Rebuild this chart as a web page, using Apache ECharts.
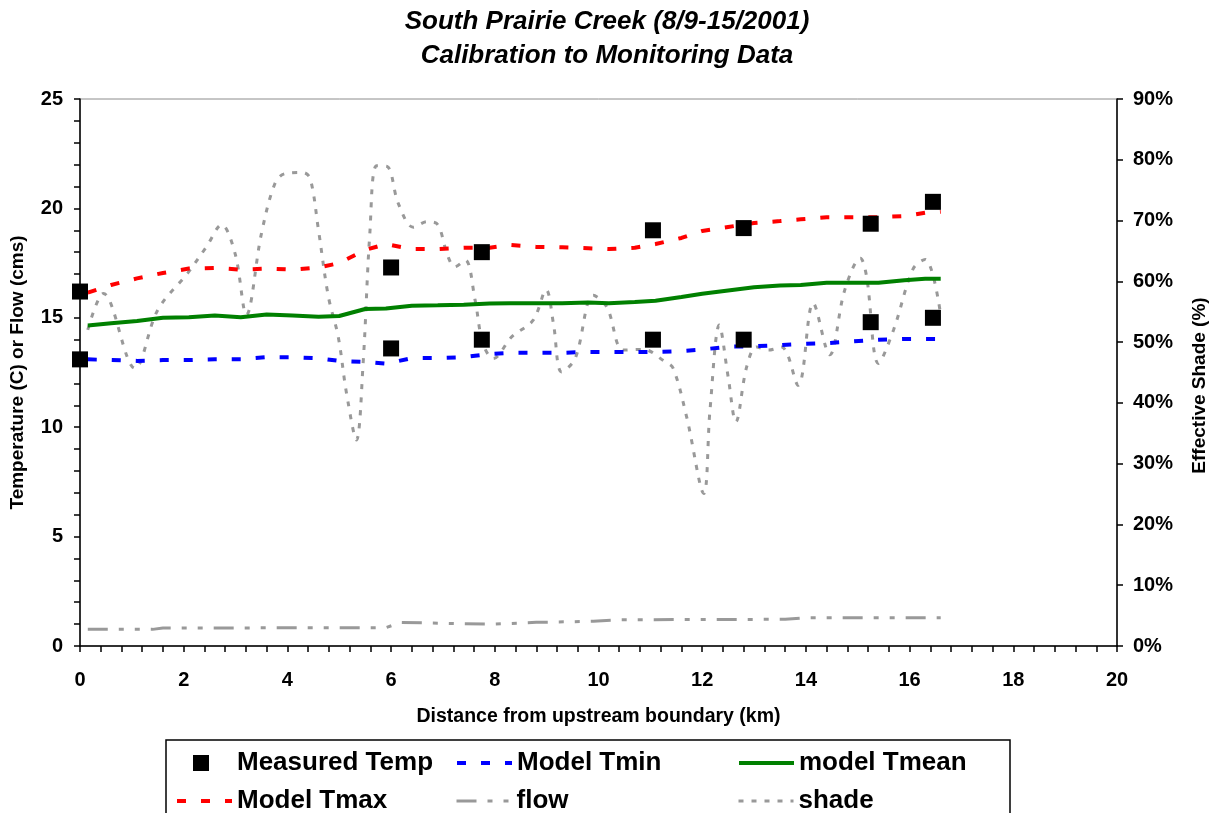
<!DOCTYPE html>
<html>
<head>
<meta charset="utf-8">
<script src="https://cdn.jsdelivr.net/npm/echarts@6/dist/echarts.min.js"></script>
<style>
  html, body { margin: 0; padding: 0; background: #fff; }
  #chart { width: 1214px; height: 813px; }
</style>
</head>
<body>
<div id="chart"></div>
<script>
// measured temperatures [km, degC]
const measuredTemp = [
  [0, 16.2], [0, 13.1], [6.0, 17.3], [6.0, 13.6], [7.75, 18.0], [7.75, 14.0],
  [11.05, 19.0], [11.05, 14.0], [12.8, 19.1], [12.8, 14.0],
  [15.25, 19.3], [15.25, 14.8], [16.45, 20.3], [16.45, 15.0]
];

// model output distances (km)
const modelKm = [0.15, 0.6, 1.1, 1.6, 2.1, 2.6, 3.1, 3.6, 4.1, 4.6, 5.0, 5.5, 5.9, 6.4, 6.9, 7.4, 7.9, 8.3,
  8.8, 9.3, 9.8, 10.2, 10.7, 11.1, 11.6, 12.0, 12.5, 13.0, 13.5, 13.9, 14.4, 14.9, 15.4, 15.9, 16.3, 16.6];
const modelTmin = [13.1, 13.07, 13.03, 13.07, 13.07, 13.1, 13.1, 13.2, 13.2, 13.15, 13.03, 12.98, 12.9, 13.16,
  13.16, 13.2, 13.35, 13.4, 13.4, 13.4, 13.44, 13.44, 13.44, 13.44, 13.48, 13.55, 13.68, 13.7, 13.75, 13.8,
  13.84, 13.92, 14.0, 14.03, 14.03, 14.03];
const modelTmean = [14.65, 14.75, 14.85, 15.0, 15.03, 15.1, 15.03, 15.15, 15.1, 15.05, 15.08, 15.4, 15.42, 15.55,
  15.57, 15.6, 15.65, 15.67, 15.67, 15.67, 15.7, 15.67, 15.72, 15.78, 15.95, 16.1, 16.25, 16.4, 16.48, 16.5,
  16.6, 16.6, 16.6, 16.72, 16.78, 16.78];
const modelTmax = [16.15, 16.5, 16.8, 17.05, 17.25, 17.28, 17.2, 17.25, 17.2, 17.3, 17.5, 18.1, 18.37, 18.14,
  18.14, 18.2, 18.2, 18.33, 18.24, 18.22, 18.18, 18.14, 18.2, 18.37, 18.65, 18.97, 19.15, 19.33, 19.42, 19.5,
  19.6, 19.6, 19.6, 19.65, 19.8, 19.85];

// flow (cms) [km, value]
const flow = [[0.15, 0.76], [1.4, 0.76], [1.6, 0.82], [5.9, 0.84], [6.2, 1.08], [7.3, 1.02], [8.0, 1.0],
  [8.8, 1.08], [9.9, 1.13], [10.4, 1.2], [13.6, 1.22], [14.0, 1.29], [16.6, 1.29]];

// effective shade (%) [km, value]
const shade = [
  [0.15, 52], [0.45, 58], [1.06, 45.7], [1.5, 55.3], [2.08, 61.4], [2.44, 65.7], [2.73, 69.3], [2.99, 64.6],
  [3.21, 54.5], [3.5, 67.9], [3.76, 76.1], [3.95, 77.7], [4.3, 77.9], [4.44, 76.9], [4.6, 68.4], [4.79, 57.5],
  [4.98, 50.9], [5.14, 41.6], [5.33, 33.9], [5.46, 46.5], [5.59, 67.9], [5.72, 79], [5.92, 78.9], [6.14, 72.8],
  [6.43, 68.9], [6.69, 69.8], [6.88, 69.5], [7.1, 64], [7.23, 62.4], [7.43, 63.5], [7.62, 56.9], [7.77, 49.8],
  [7.97, 47.3], [8.33, 50.9], [8.74, 53.6], [8.99, 58.6], [9.13, 53.1], [9.29, 45.1], [9.55, 47.3], [9.9, 57.7],
  [10.16, 55.8], [10.48, 48.7], [10.86, 48.8], [11.28, 46.8], [11.44, 45.7], [11.7, 37.7], [12.03, 25.1],
  [12.15, 38.8], [12.33, 52.8], [12.5, 44.3], [12.65, 36.9], [12.86, 46], [13.05, 49.2], [13.28, 48.7],
  [13.53, 49.2], [13.85, 42.9], [14.14, 56.4], [14.46, 47.9], [14.75, 58.6], [15.05, 63.8], [15.17, 60.8],
  [15.4, 46.5], [15.69, 52], [16.07, 62.1], [16.3, 63.6], [16.59, 55]
];

const FONT = 'Liberation Sans, Arial, sans-serif';
const zipKm = (vals) => modelKm.map((k, i) => [k, vals[i]]);
const legendText = { fontFamily: FONT, fontSize: 26, fontWeight: 'bold', color: '#000' };

const chart = echarts.init(document.getElementById('chart'));

// one legend per cell so the columns line up like the original
function legendCell(name, left, top, width) {
  return {
    data: [name],
    left: left,
    top: top,
    orient: 'horizontal',
    itemWidth: 55,
    itemHeight: 14,
    padding: 0,
    selectedMode: false,
    // hide the marker dot, keep the line
    itemStyle: { opacity: 0 },
    lineStyle: { width: width },
    textStyle: legendText
  };
}

chart.setOption({
  animation: false,
  backgroundColor: '#fff',
  title: {
    text: 'South Prairie Creek (8/9-15/2001)\nCalibration to Monitoring Data',
    left: 'center',
    top: 0,
    textStyle: {
      fontFamily: FONT, fontSize: 26, fontWeight: 'bold', fontStyle: 'italic',
      color: '#000', lineHeight: 34
    }
  },
  grid: {
    left: 80, right: 97, top: 99, bottom: 167,
    outerBoundsMode: 'none',
    show: true, borderColor: '#8c8c8c', borderWidth: 1
  },
  legend: [
    {
      data: ['Measured Temp'],
      left: 193, top: 750,
      itemWidth: 16, itemHeight: 16,
      padding: 0,
      selectedMode: false,
      textStyle: Object.assign({}, legendText, { padding: [0, 0, 0, 23] })
    },
    legendCell('Model Tmin', 455, 750, 4),
    legendCell('model Tmean', 737, 750, 4),
    legendCell('Model Tmax', 175, 788, 4),
    legendCell('flow', 455, 788, 3),
    legendCell('shade', 737, 788, 3)
  ],
  graphic: [{
    type: 'rect',
    shape: { x: 166, y: 740, width: 844, height: 100 },
    style: { fill: 'none', stroke: '#000', lineWidth: 1.5 },
    silent: true
  }],
  xAxis: {
    type: 'value',
    min: 0, max: 20, interval: 2,
    name: 'Distance from upstream boundary (km)',
    nameLocation: 'middle',
    nameGap: 61,
    nameTextStyle: { fontFamily: FONT, fontSize: 19.5, fontWeight: 'bold', color: '#000' },
    axisLine: { onZero: false, lineStyle: { color: '#000', width: 1.5 } },
    axisTick: { inside: false, length: 6, lineStyle: { color: '#000', width: 1.5 } },
    minorTick: { show: true, splitNumber: 5, length: 6, lineStyle: { color: '#000', width: 1.5 } },
    axisLabel: { margin: 24, fontFamily: FONT, fontSize: 20, fontWeight: 'bold', color: '#000' },
    splitLine: { show: false }
  },
  yAxis: [{
    type: 'value',
    min: 0, max: 25, interval: 5,
    position: 'left',
    name: 'Temperature (C) or Flow (cms)',
    nameLocation: 'middle',
    nameGap: 53,
    nameRotate: 90,
    nameTextStyle: { fontFamily: FONT, fontSize: 19, fontWeight: 'bold', color: '#000' },
    axisLine: { show: true, lineStyle: { color: '#000', width: 1.5 } },
    axisTick: { show: true, length: 6, lineStyle: { color: '#000', width: 1.5 } },
    minorTick: { show: true, splitNumber: 5, length: 6, lineStyle: { color: '#000', width: 1.5 } },
    axisLabel: { margin: 17, fontFamily: FONT, fontSize: 20, fontWeight: 'bold', color: '#000' },
    splitLine: { show: false }
  }, {
    type: 'value',
    min: 0, max: 90, interval: 10,
    position: 'right',
    name: 'Effective Shade (%)',
    nameLocation: 'middle',
    nameGap: 73,
    nameRotate: 90,
    nameTextStyle: {
      fontFamily: FONT, fontSize: 19, fontWeight: 'bold', color: '#000', padding: [0, 26, 0, 0]
    },
    axisLine: { show: true, lineStyle: { color: '#000', width: 1.5 } },
    axisTick: { show: true, length: 6, lineStyle: { color: '#000', width: 1.5 } },
    axisLabel: {
      margin: 16, fontFamily: FONT, fontSize: 20, fontWeight: 'bold', color: '#000',
      formatter: '{value}%'
    },
    splitLine: { show: false }
  }],
  series: [
    {
      name: 'Model Tmin', type: 'line', data: zipKm(modelTmin),
      symbol: 'none', z: 3,
      lineStyle: { color: '#0000ff', width: 4, type: [9, 15] },
      itemStyle: { color: '#0000ff' }
    },
    {
      name: 'model Tmean', type: 'line', data: zipKm(modelTmean),
      symbol: 'none', z: 3,
      lineStyle: { color: '#008000', width: 4 },
      itemStyle: { color: '#008000' }
    },
    {
      name: 'Model Tmax', type: 'line', data: zipKm(modelTmax),
      symbol: 'none', z: 3,
      lineStyle: { color: '#ff0000', width: 4, type: [9, 15] },
      itemStyle: { color: '#ff0000' }
    },
    {
      name: 'flow', type: 'line', data: flow,
      symbol: 'none', z: 2,
      lineStyle: { color: '#999999', width: 3, type: [20, 11, 5, 11, 5, 11] },
      itemStyle: { color: '#999999' }
    },
    {
      name: 'shade', type: 'line', data: shade, yAxisIndex: 1,
      symbol: 'none', smooth: 0.35, z: 2,
      lineStyle: { color: '#999999', width: 3, type: [5, 8] },
      itemStyle: { color: '#999999' }
    },
    {
      name: 'Measured Temp', type: 'scatter', data: measuredTemp,
      symbol: 'rect', symbolSize: 16, z: 5,
      itemStyle: { color: '#000', opacity: 1 }
    }
  ]
});
</script>
</body>
</html>
